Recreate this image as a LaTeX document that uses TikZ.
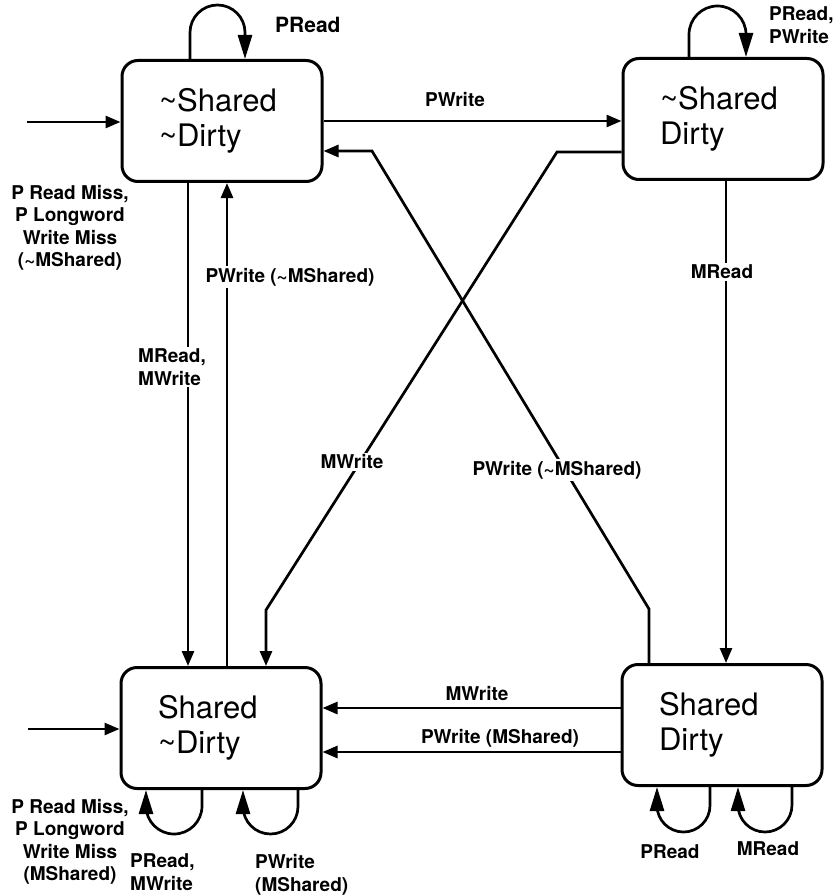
\documentclass[tikz,border=0pt]{standalone}
\usepackage{fontspec}
\setmainfont{TeX Gyre Heros}
\usetikzlibrary{arrows.meta,calc}
\begin{document}
\begin{tikzpicture}[x=1pt,y=1pt,
  conn/.style={line width=2.7pt,-{Triangle[length=15pt,width=12pt]}},
  loopc/.style={line width=2.7pt,-{Triangle[length=24pt,width=14pt]}},
  lab/.style={font=\bfseries\fontsize{19}{22.5}\selectfont,inner sep=2pt},
  labw/.style={lab,fill=white},
  state/.style={draw,rectangle,rounded corners=16pt,line width=3pt,
    minimum width=200pt,minimum height=121pt,text width=126pt,
    inner xsep=37pt,align=left,font=\fontsize{31}{35}\selectfont}]
\useasboundingbox (0,0) rectangle (835,-896);

% states
\node[state] (TL) at (222,-121) {\textasciitilde Shared\\\textasciitilde Dirty};
\node[state] (TR) at (723,-119) {\textasciitilde Shared\\Dirty};
\node[state] (BL) at (221,-728) {Shared\\\textasciitilde Dirty};
\node[state] (BR) at (722,-725) {Shared\\Dirty};

% helper coordinates
\coordinate (s1) at (27,-122);
\coordinate (s2) at (28,-729);
\coordinate (x188) at (188,0);
\coordinate (x227) at (227,0);
\coordinate (x726) at (726,0);
\coordinate (x266) at (266,0);
\coordinate (x649) at (649,0);
\coordinate (y152) at (0,-152);
\coordinate (y151) at (0,-151);
\coordinate (y708) at (0,-708);
\coordinate (y752) at (0,-752);
\coordinate (m1) at (557,-152);
\coordinate (m2) at (266,-610);
\coordinate (p1) at (649,-609);
\coordinate (p2) at (372,-151);

% start arrows
\draw[conn] (s1) -- (s1 -| TL.west);
\draw[conn] (s2) -- (s2 -| BL.west);

% transitions
\draw[conn] (TL.east) -- (TL.east -| TR.west);
\draw[conn] (x188 |- TL.south) -- (x188 |- BL.north);
\draw[conn] (x227 |- BL.north) -- (x227 |- TL.south);
\draw[conn] (x726 |- TR.south) -- (x726 |- BR.north);
\draw[conn] (y708 -| BR.west) -- (y708 -| BL.east);
\draw[conn] (y752 -| BR.west) -- (y752 -| BL.east);
\draw[conn] (y152 -| TR.west) -- (m1) -- (m2) -- (x266 |- BL.north);
\draw[conn] (x649 |- BR.north) -- (p1) -- (p2) -- (y151 -| TL.east);

% self loops
\coordinate (a1) at (190,0); \coordinate (a2) at (245,0);
\draw[loopc] (a1 |- TL.north) -- (190,-32.5) arc[start angle=180,end angle=0,radius=27.5] -- (a2 |- TL.north);
\coordinate (b1) at (689,0); \coordinate (b2) at (746,0);
\draw[loopc] (b1 |- TR.north) -- (689,-34.5) arc[start angle=180,end angle=0,radius=28.5] -- (b2 |- TR.north);
\coordinate (c1) at (202,0); \coordinate (c2) at (146,0);
\draw[loopc] (c1 |- BL.south) -- (202,-806) arc[start angle=0,end angle=-180,radius=28] -- (c2 |- BL.south);
\coordinate (c3) at (298,0); \coordinate (c4) at (243,0);
\draw[loopc] (c3 |- BL.south) -- (298,-806.5) arc[start angle=0,end angle=-180,radius=27.5] -- (c4 |- BL.south);
\coordinate (d1) at (710,0); \coordinate (d2) at (657,0);
\draw[loopc] (d1 |- BR.south) -- (710,-805.5) arc[start angle=0,end angle=-180,radius=26.5] -- (d2 |- BR.south);
\coordinate (d3) at (792,0); \coordinate (d4) at (738,0);
\draw[loopc] (d3 |- BR.south) -- (792,-805) arc[start angle=0,end angle=-180,radius=27] -- (d4 |- BR.south);

% labels
\node[lab] (l1) at (455,-100) {PWrite};
\node[labw] (l2) at (722,-272) {MRead};
\node[labw,align=left] (l3) at (172,-367) {MRead,\\MWrite};
\node[labw] (l4) at (290,-277) {PWrite (\textasciitilde MShared)};
\node[labw] (l5) at (352,-462) {MWrite};
\node[labw] (l6) at (557,-470) {PWrite (\textasciitilde MShared)};
\node[lab] (l7) at (477,-694) {MWrite};
\node[lab] (l8) at (500,-738) {PWrite (MShared)};
\node[lab,anchor=west,font=\bfseries\fontsize{21}{24}\selectfont] (l9) at (273,-25) {PRead};
\node[lab,anchor=west,align=left] (l10) at (767,-25) {PRead,\\PWrite};
\node[lab,align=center] (l11) at (70,-228) {P Read Miss,\\P Longword\\Write Miss\\(\textasciitilde MShared)};
\node[lab,align=center] (l12) at (70,-842) {P Read Miss,\\P Longword\\Write Miss\\(MShared)};
\node[lab,anchor=west,align=left] (l13) at (128,-872) {PRead,\\MWrite};
\node[lab,anchor=west,align=left] (l14) at (253,-875) {PWrite\\(MShared)};
\node[lab] (l15) at (670,-852) {PRead};
\node[lab] (l16) at (768,-849) {MRead};
\end{tikzpicture}
\end{document}
